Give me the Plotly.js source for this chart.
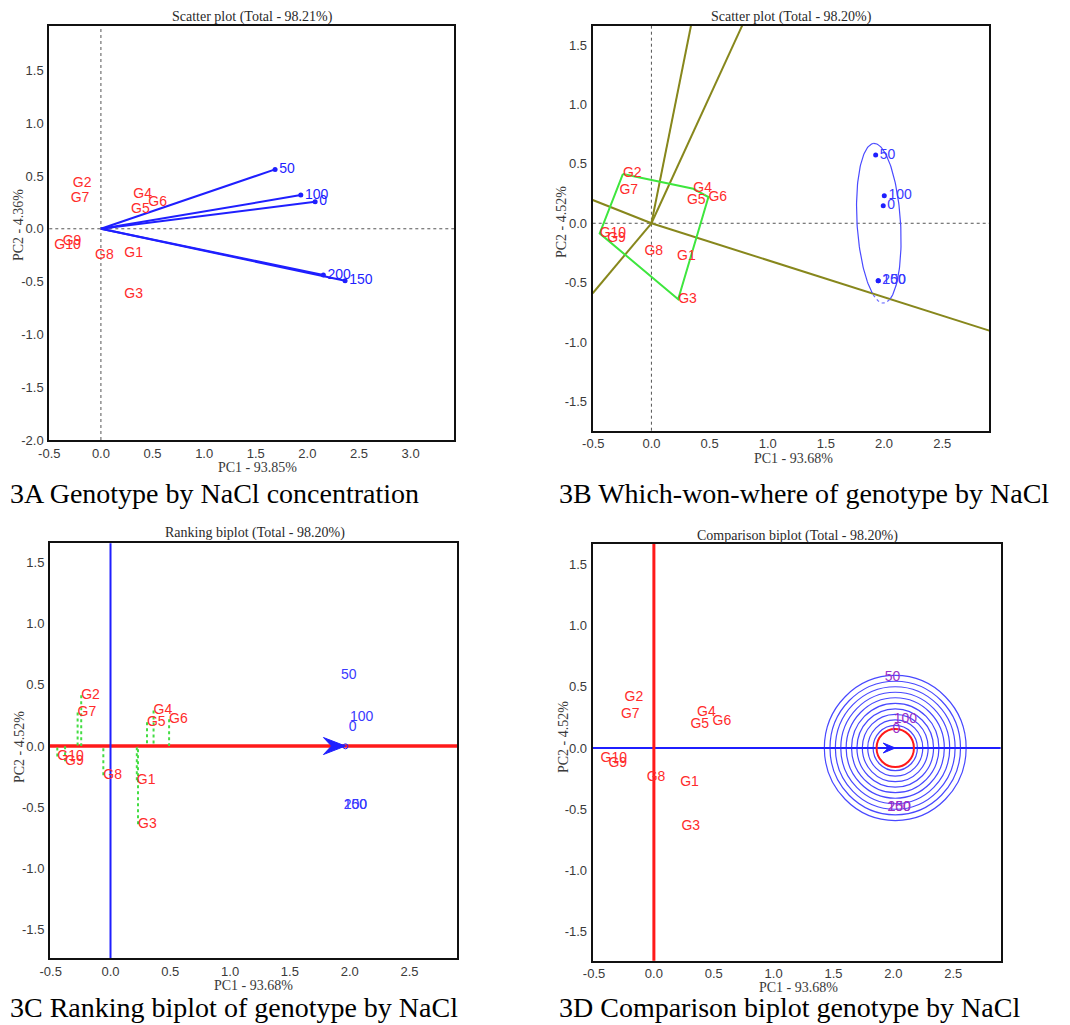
<!DOCTYPE html>
<html><head><meta charset="utf-8">
<script src="https://cdn.plot.ly/plotly-3.0.1.min.js"></script>
<style>body{margin:0;background:#fff}#chart{width:1070px;height:1025px}</style>
</head><body><div id="chart"></div>
<script>
// ---------------- data ----------------
const genotypes = ['G1','G2','G3','G4','G5','G6','G7','G8','G9','G10'];
const environments = ['0','50','100','150','200'];
// 3A : PC1 93.85 %, PC2 4.36 %
const genoPC1_A = [0.227,-0.273,0.227,0.314,0.292,0.459,-0.293,-0.057,-0.37,-0.452];
const genoPC2_A = [-0.233,0.426,-0.621,0.328,0.186,0.25,0.29,-0.249,-0.116,-0.154];
const envPC1_A = [2.075,1.687,1.936,2.365,2.155];
const envPC2_A = [0.255,0.562,0.319,-0.492,-0.438];
// 3B-3D : PC1 93.68 %, PC2 4.52 %
const genoPC1 = [0.22,-0.245,0.23,0.36,0.305,0.49,-0.275,-0.06,-0.38,-0.445];
const genoPC2 = [-0.28,0.415,-0.64,0.29,0.195,0.22,0.275,-0.24,-0.125,-0.085];
const envPC1 = [1.993,1.928,2.002,1.95,1.95];
const envPC2 = [0.148,0.574,0.232,-0.483,-0.483];
// which-won-where polygon and sector rays
const polygonOrder = ['G2','G4','G6','G3','G10','G2'];
const rayEndPC1 = [-0.505,0.34,0.78,2.905,-0.505];
const rayEndPC2 = [0.196,1.662,1.662,-0.903,-0.589];
// mega-environment ellipse (centre, semi-axes, tilt in rad)
const ellipseCenter = [1.955,0.0];
const ellipseAxes = [0.187,0.673];
const ellipseTilt = 0.064;
// comparison biplot rings
const ringRadii = [0.185,0.23,0.275,0.32,0.365,0.41,0.455,0.5,0.545,0.592];
const idealRadius = 0.156;
// tick labels
const xTickValsA = [-0.5,0,0.5,1,1.5,2,2.5,3];
const xTickTextA = ['-0.5','0.0','0.5','1.0','1.5','2.0','2.5','3.0'];
const yTickValsA = [-2,-1.5,-1,-0.5,0,0.5,1,1.5];
const yTickTextA = ['-2.0','-1.5','-1.0','-0.5','0.0','0.5','1.0','1.5'];
const xTickVals = [-0.5,0,0.5,1,1.5,2,2.5];
const xTickText = ['-0.5','0.0','0.5','1.0','1.5','2.0','2.5'];
const yTickVals = [-1.5,-1,-0.5,0,0.5,1,1.5];
const yTickText = ['-1.5','-1.0','-0.5','0.0','0.5','1.0','1.5'];

// ---------------- styling ----------------
const SANS = 'Liberation Sans, Arial, sans-serif';
const SERIF = 'Liberation Serif, Times New Roman, serif';
const RED = '#ff2b2b', BLUE = '#1f1fff', LBLUE = '#3a3aff', PURPLE = '#9a30c8';
const W = 1070, H = 1025;
const px = v => v / W, py = v => 1 - v / H;

const mean = a => a.reduce((s, v) => s + v, 0) / a.length;
const meanEnv = [mean(envPC1), mean(envPC2)];
const idealEnvX = Math.max(...envPC1.map((x, i) => Math.hypot(x, envPC2[i])));

const traces = [];
function genoText(xs, ys, ax) {
  return {type:'scatter', mode:'text', x:xs, y:ys, text:genotypes, textposition:'middle right',
    marker:{size:1}, textfont:{family:SANS, size:14, color:RED}, xaxis:'x'+ax, yaxis:'y'+ax,
    hoverinfo:'text', showlegend:false, cliponaxis:false};
}
// ---- 3A ----
const vx = [], vy = [];
envPC1_A.forEach((x, i) => { vx.push(0, x, null); vy.push(0, envPC2_A[i], null); });
traces.push({type:'scatter', mode:'lines', x:vx, y:vy, line:{color:BLUE, width:2}, xaxis:'x', yaxis:'y', showlegend:false, hoverinfo:'skip'});
traces.push({type:'scatter', mode:'markers+text', x:envPC1_A, y:envPC2_A, text:environments, textposition:'middle right',
  marker:{size:5, color:BLUE}, textfont:{family:SANS, size:14, color:BLUE}, xaxis:'x', yaxis:'y', showlegend:false});
traces.push(genoText(genoPC1_A, genoPC2_A, ''));

// ---- 3B ----
const rx = [], ry = [];
rayEndPC1.forEach((x, i) => { rx.push(0, x, null); ry.push(0, rayEndPC2[i], null); });
traces.push({type:'scatter', mode:'lines', x:rx, y:ry, line:{color:'#87871c', width:2}, xaxis:'x2', yaxis:'y2', showlegend:false, hoverinfo:'skip'});
const polyX = polygonOrder.map(g => genoPC1[genotypes.indexOf(g)]);
const polyY = polygonOrder.map(g => genoPC2[genotypes.indexOf(g)]);
traces.push({type:'scatter', mode:'lines', x:polyX, y:polyY, line:{color:'#3ee63e', width:2}, xaxis:'x2', yaxis:'y2', showlegend:false, hoverinfo:'skip'});
// ellipse outline, dotted where it lies below the lower-right ray
const slope = rayEndPC2[3] / rayEndPC1[3];
const eSolidX = [], eSolidY = [], eDotX = [], eDotY = [];
for (let k = 0; k <= 180; k++) {
  const t = 2 * Math.PI * k / 180;
  const a = ellipseAxes[1], b = ellipseAxes[0], f = ellipseTilt;
  const x = ellipseCenter[0] + a * Math.cos(t) * (-Math.sin(f)) + b * Math.sin(t) * Math.cos(f);
  const y = ellipseCenter[1] + a * Math.cos(t) * Math.cos(f) + b * Math.sin(t) * Math.sin(f);
  const below = y < slope * x;
  eSolidX.push(below ? null : x); eSolidY.push(below ? null : y);
  eDotX.push(below ? x : null); eDotY.push(below ? y : null);
}
traces.push({type:'scatter', mode:'lines', x:eSolidX, y:eSolidY, line:{color:'#4a4aff', width:1.2}, xaxis:'x2', yaxis:'y2', showlegend:false, hoverinfo:'skip'});
traces.push({type:'scatter', mode:'lines', x:eDotX, y:eDotY, line:{color:'#6a6aff', width:1.2, dash:'dot'}, xaxis:'x2', yaxis:'y2', showlegend:false, hoverinfo:'skip'});
traces.push({type:'scatter', mode:'markers+text', x:envPC1, y:envPC2, text:environments, textposition:'middle right',
  marker:{size:5, color:BLUE}, textfont:{family:SANS, size:14, color:LBLUE}, xaxis:'x2', yaxis:'y2', showlegend:false});
traces.push(genoText(genoPC1, genoPC2, '2'));

// ---- 3C ----
const px3 = [], py3 = [];
genoPC1.forEach((x, i) => { px3.push(x, x, null); py3.push(genoPC2[i], 0, null); });
traces.push({type:'scatter', mode:'lines', x:px3, y:py3, line:{color:'#44dd44', width:2, dash:'dot'}, xaxis:'x3', yaxis:'y3', showlegend:false, hoverinfo:'skip'});
traces.push({type:'scatter', mode:'text', x:envPC1, y:envPC2, text:environments, textposition:'middle right', marker:{size:1},
  textfont:{family:SANS, size:14, color:LBLUE}, xaxis:'x3', yaxis:'y3', showlegend:false});
traces.push({type:'scatter', mode:'markers', x:[meanEnv[0]], y:[meanEnv[1]], marker:{symbol:'circle-open', size:5, color:BLUE}, xaxis:'x3', yaxis:'y3', showlegend:false, hoverinfo:'skip'});
traces.push(genoText(genoPC1, genoPC2, '3'));

// ---- 3D ----
traces.push({type:'scatter', mode:'text', x:envPC1, y:envPC2, text:environments, textposition:'middle right', marker:{size:1},
  textfont:{family:SANS, size:14, color:PURPLE}, xaxis:'x4', yaxis:'y4', showlegend:false});
traces.push(genoText(genoPC1, genoPC2, '4'));

// ---------------- layout ----------------
function axisX(domain, range, vals, text, anchor) {
  return {domain, range, anchor, tickvals:vals, ticktext:text, showgrid:false, zeroline:false,
    showline:true, mirror:true, linecolor:'#111', linewidth:2, ticks:'',
    tickfont:{family:SANS, size:13, color:'#3a3a3a'}};
}
function axisY(domain, range, vals, text, anchor) {
  return {domain, range, anchor, tickvals:vals, ticktext:text, showgrid:false, zeroline:false,
    showline:true, mirror:true, linecolor:'#111', linewidth:2, ticks:'outside', ticklen:1, tickcolor:'rgba(0,0,0,0)',
    tickfont:{family:SANS, size:13, color:'#3a3a3a'}};
}
const shapes = [];
function vline(ax, x, color, width, dash) {
  shapes.push({type:'line', xref:'x'+ax, yref:'y'+ax+' domain', x0:x, x1:x, y0:0, y1:1, line:{color, width, dash}, layer:'below'});
}
function hline(ax, y, color, width, dash) {
  shapes.push({type:'line', xref:'x'+ax+' domain', yref:'y'+ax, x0:0, x1:1, y0:y, y1:y, line:{color, width, dash}, layer:'below'});
}
vline('', 0, '#555', 1, 'dot'); hline('', 0, '#555', 1, 'dot');
vline('2', 0, '#555', 1, 'dot'); hline('2', 0, '#555', 1, 'dot');
hline('3', 0, '#ff1a1a', 3.5, 'solid'); vline('3', 0, '#1f1fff', 2, 'solid');
ringRadii.forEach(r => shapes.push({type:'circle', xref:'x4', yref:'y4', x0:idealEnvX - r, x1:idealEnvX + r, y0:-r, y1:r,
  line:{color:'rgba(40,40,255,0.85)', width:1.2}, layer:'below'}));
shapes.push({type:'circle', xref:'x4', yref:'y4', x0:idealEnvX - idealRadius, x1:idealEnvX + idealRadius, y0:-idealRadius, y1:idealRadius,
  line:{color:'#ff1a1a', width:2}, layer:'below'});
hline('4', 0, '#1f1fff', 2.2, 'solid'); vline('4', 0, '#ff1a1a', 3, 'solid');
// arrowheads (pixel-sized, anchored at the average / ideal environment)
function arrowHead(ax, xAnchor, len, half, notch) {
  shapes.push({type:'path', xref:'x'+ax, yref:'y'+ax, xsizemode:'pixel', ysizemode:'pixel',
    xanchor:xAnchor, yanchor:0, path:`M0,0L${-len},${-half}L${-notch},0L${-len},${half}Z`,
    fillcolor:'#1f1fff', line:{color:'#1f1fff', width:1}, layer:'above'});
}
arrowHead('3', meanEnv[0], 22, 8.5, 14);
arrowHead('4', idealEnvX, 12, 5, 7);

const ann = [];
function txt(x, y, text, size, family, color, opts) {
  ann.push(Object.assign({xref:'paper', yref:'paper', x:px(x), y:py(y), text, showarrow:false,
    font:{size, family, color}, xanchor:'center', yanchor:'middle'}, opts || {}));
}
// panel titles
txt(252, 17, 'Scatter plot (Total - 98.21%)', 14, SERIF, '#2a2a2a');
txt(791, 17, 'Scatter plot (Total - 98.20%)', 14, SERIF, '#2a2a2a');
txt(255, 533, 'Ranking biplot (Total - 98.20%)', 14, SERIF, '#2a2a2a');
txt(797, 536, 'Comparison biplot (Total - 98.20%)', 14, SERIF, '#2a2a2a');
// axis titles
txt(257, 468, 'PC1 - 93.85%', 14, SERIF, '#3a3a3a');
txt(793, 459, 'PC1 - 93.68%', 14, SERIF, '#3a3a3a');
txt(253, 985, 'PC1 - 93.68%', 14, SERIF, '#3a3a3a');
txt(798, 987, 'PC1 - 93.68%', 14, SERIF, '#3a3a3a');
txt(19, 225, 'PC2 - 4.36%', 14, SERIF, '#3a3a3a', {textangle:-90});
txt(562, 222, 'PC2 - 4.52%', 14, SERIF, '#3a3a3a', {textangle:-90});
txt(19, 747, 'PC2 - 4.52%', 14, SERIF, '#3a3a3a', {textangle:-90});
txt(563, 737, 'PC2 - 4.52%', 14, SERIF, '#3a3a3a', {textangle:-90});
// captions
txt(8, 493, '3A Genotype by NaCl concentration', 28, SERIF, '#000', {xanchor:'left'});
txt(557, 493, '3B Which-won-where of genotype by NaCl', 28, SERIF, '#000', {xanchor:'left'});
txt(8, 1007, '3C Ranking biplot of genotype by NaCl', 28, SERIF, '#000', {xanchor:'left'});
txt(557, 1007, '3D Comparison biplot genotype by NaCl', 28, SERIF, '#000', {xanchor:'left'});

const layout = {
  width:W, height:H, margin:{l:0, r:0, t:0, b:0}, paper_bgcolor:'#fff', plot_bgcolor:'#fff', showlegend:false,
  xaxis: axisX([px(49.3), px(454)], [-0.5, 3.42], xTickValsA, xTickTextA, 'y'),
  yaxis: axisY([py(440), py(26)], [-2.0, 1.92], yTickValsA, yTickTextA, 'x'),
  xaxis2: axisX([px(592.7), px(989.3)], [-0.505, 2.905], xTickVals, xTickText, 'y2'),
  yaxis2: axisY([py(430.7), py(25.7)], [-1.745, 1.662], yTickVals, yTickText, 'x2'),
  xaxis3: axisX([px(50), px(457.3)], [-0.506, 2.9], xTickVals, xTickText, 'y3'),
  yaxis3: axisY([py(958.3), py(543.3)], [-1.737, 1.659], yTickVals, yTickText, 'x3'),
  xaxis4: axisX([px(592.7), px(1000.7)], [-0.511, 2.896], xTickVals, xTickText, 'y4'),
  yaxis4: axisY([py(960.7), py(544)], [-1.736, 1.665], yTickVals, yTickText, 'x4'),
  shapes, annotations:ann
};
Plotly.newPlot('chart', traces, layout, {displayModeBar:false, staticPlot:true});
</script>
</body></html>
